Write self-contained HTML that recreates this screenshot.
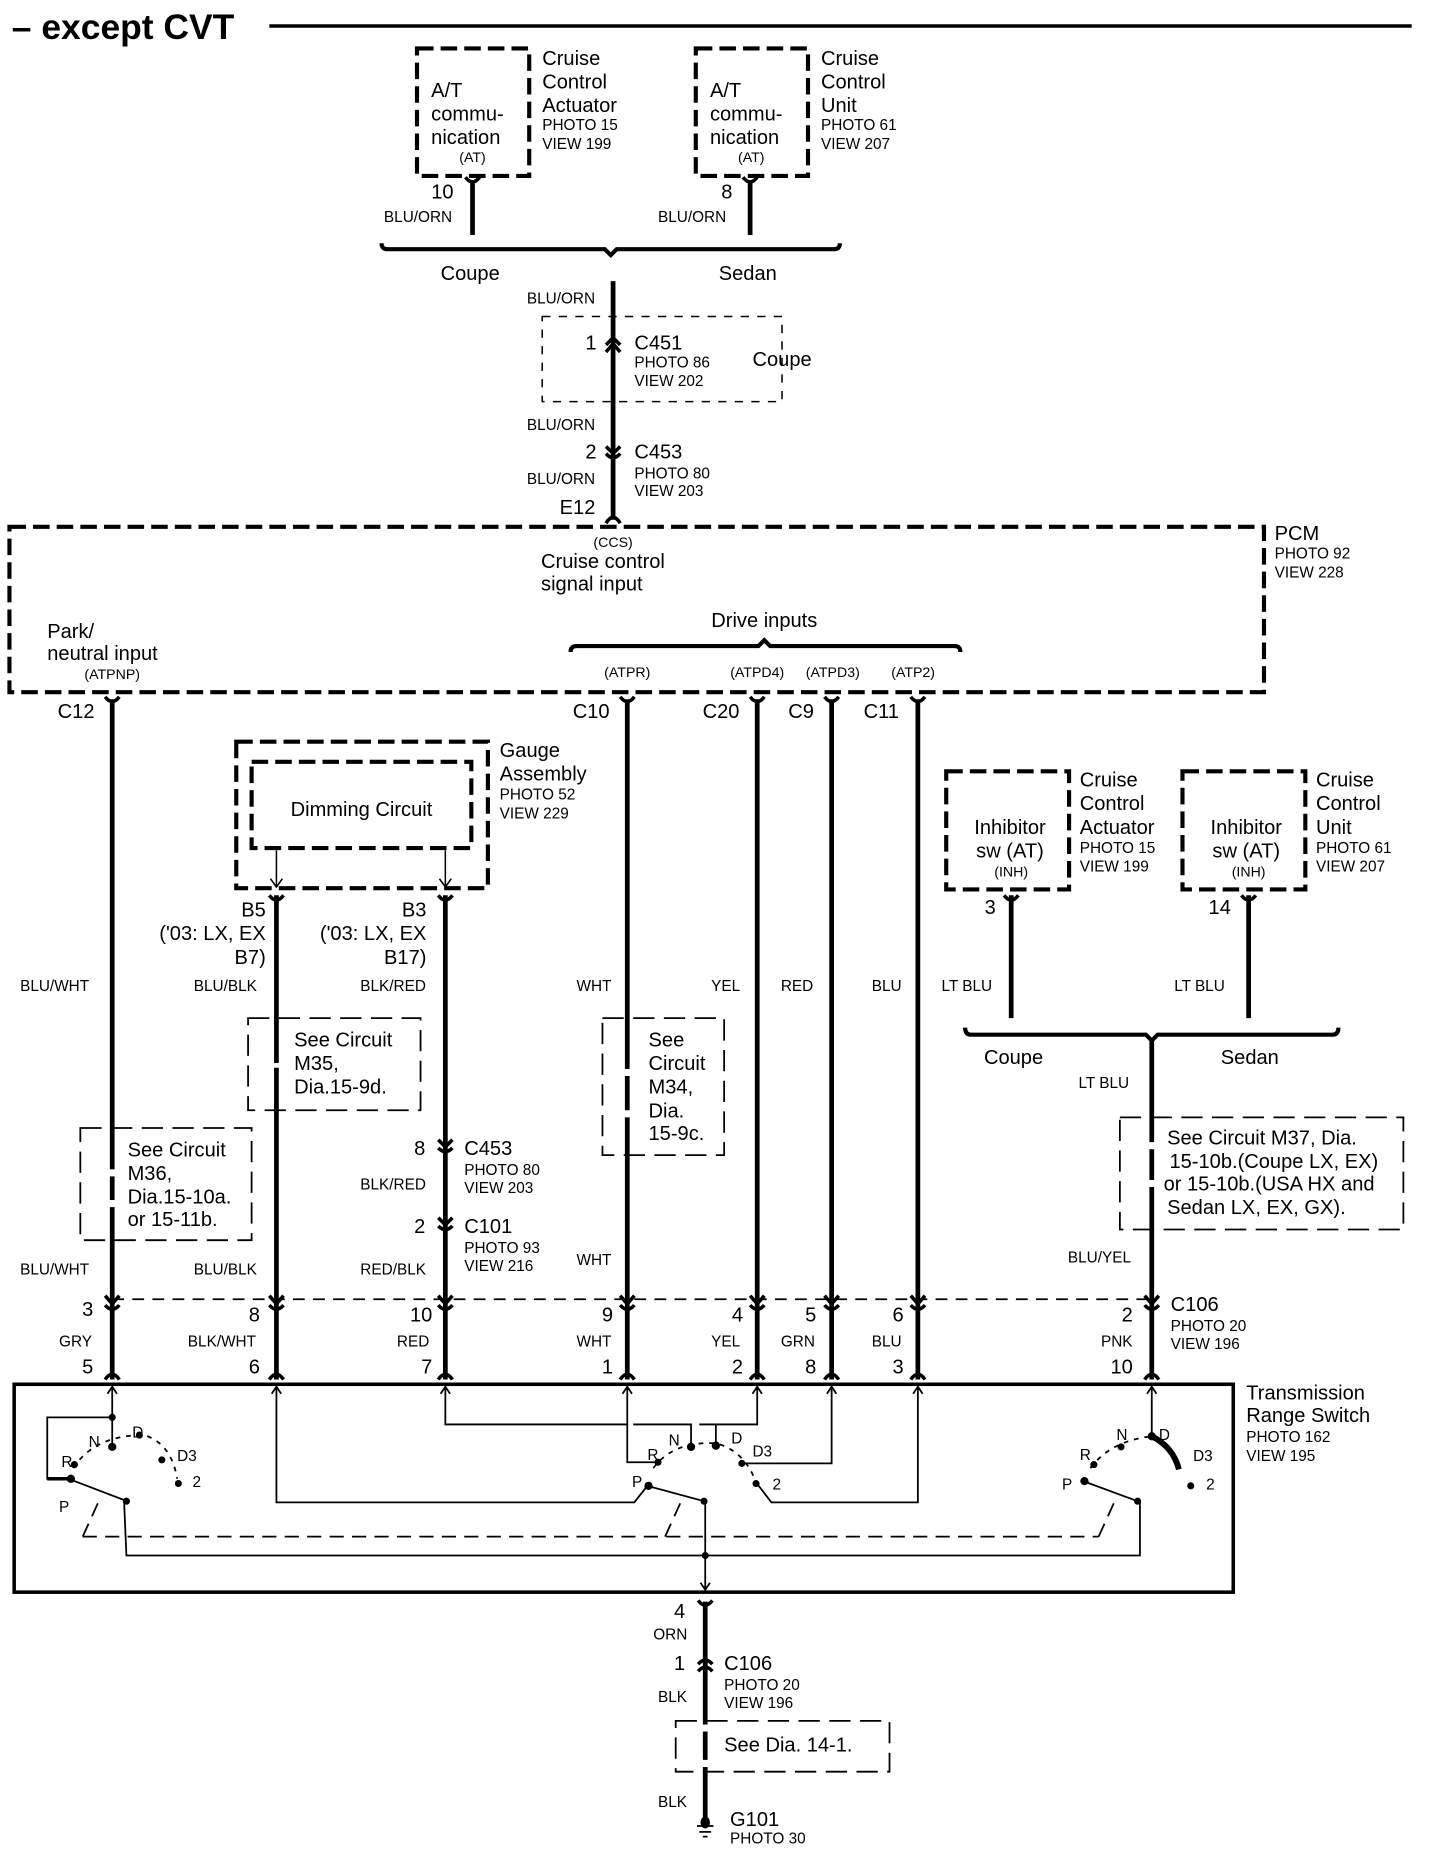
<!DOCTYPE html>
<html><head><meta charset="utf-8"><style>
html,body{margin:0;padding:0;background:#fff;}
svg{display:block;}
text{font-family:"Liberation Sans",sans-serif;fill:#000;}
.L{font-size:17px;}
.S{font-size:13px;}
.T{font-size:12px;}
</style></head><body>
<svg width="1440" height="1852" viewBox="0 0 1219 1568" preserveAspectRatio="none" xmlns="http://www.w3.org/2000/svg">
<rect x="0" y="0" width="1219" height="1568" fill="#fff"/>
<g fill="none" stroke="#000">
<line x1="228" y1="22" x2="1195" y2="22" stroke-width="3"/>
<rect x="353" y="41" width="95" height="108" stroke-width="3.5" stroke-dasharray="14,6"/>
<rect x="589" y="41" width="95" height="108" stroke-width="3.5" stroke-dasharray="14,6"/>
<line x1="400" y1="155" x2="400" y2="199" stroke-width="4"/>
<line x1="635" y1="155" x2="635" y2="199" stroke-width="4"/>
<path d="M394,150 Q400,158 406,150 M629,150 Q635,158 641,150" stroke-width="3"/>
<path d="M323,206 Q323,211 328,211 L512,211 L517,216 L522,211 L706,211 Q711,211 711,206" stroke-width="3.5"/>
<line x1="519" y1="238" x2="519" y2="440" stroke-width="4"/>
<rect x="459" y="268" width="203" height="72" stroke-width="1.3" stroke-dasharray="7,7"/>
<path d="M513,292 L519,286 L525,292 M513,298 L519,291 L525,298" stroke-width="3"/>
<path d="M513,378 L519,384 L525,378 M513,384 Q519,391 525,384" stroke-width="3"/>
<path d="M513,443 Q519,433 525,443" stroke-width="3"/>
<rect x="8" y="446" width="1062" height="140" stroke-width="3.5" stroke-dasharray="14,6"/>
<path d="M483,552 Q483,547 488,547 L642,547 L647,542 L652,547 L808,547 Q813,547 813,552" stroke-width="3.5"/>
<g stroke-width="4">
<line x1="95" y1="592" x2="95" y2="1168"/>
<line x1="531" y1="592" x2="531" y2="1168"/>
<line x1="641" y1="592" x2="641" y2="1168"/>
<line x1="704" y1="592" x2="704" y2="1168"/>
<line x1="777" y1="592" x2="777" y2="1168"/>
<line x1="234" y1="758" x2="234" y2="1168"/>
<line x1="377" y1="758" x2="377" y2="1168"/>
<line x1="856" y1="758" x2="856" y2="862"/>
<line x1="1057" y1="758" x2="1057" y2="862"/>
<line x1="975" y1="881" x2="975" y2="1168"/>
<line x1="597" y1="1356" x2="597" y2="1460"/>
<line x1="597" y1="1466" x2="597" y2="1490"/>
<line x1="597" y1="1496" x2="597" y2="1545"/>
</g>
<g stroke="#fff" stroke-width="6">
<line x1="234" y1="900" x2="234" y2="904"/><line x1="95" y1="990" x2="95" y2="996"/><line x1="95" y1="1016" x2="95" y2="1022"/>
<line x1="531" y1="905" x2="531" y2="911"/><line x1="531" y1="940" x2="531" y2="946"/>
<line x1="975" y1="967" x2="975" y2="973"/><line x1="975" y1="999" x2="975" y2="1005"/>
</g>
<g stroke-width="3">
<path d="M89,590 Q95,598 101,590 M525,590 Q531,598 537,590 M635,590 Q641,598 647,590 M698,590 Q704,598 710,590 M771,590 Q777,598 783,590"/>
<path d="M228,758 Q234,766 240,758 M371,758 Q377,766 383,758 M850,758 Q856,766 862,758 M1051,758 Q1057,766 1063,758 M591,1355 Q597,1363 603,1355"/>
</g>
<rect x="200" y="628" width="213" height="124" stroke-width="3.5" stroke-dasharray="14,6"/>
<rect x="213" y="645" width="186" height="73" stroke-width="3.5" stroke-dasharray="14,6"/>
<path d="M234,720 L234,751 M229,744 L234,751 L239,744 M377,720 L377,751 M372,744 L377,751 L382,744" stroke-width="1.3"/>
<rect x="801" y="653" width="104" height="100" stroke-width="3.5" stroke-dasharray="14,6"/>
<rect x="1001" y="653" width="104" height="100" stroke-width="3.5" stroke-dasharray="14,6"/>
<path d="M817,870 Q817,876 822,876 L970,876 L975,881 L980,876 L1128,876 Q1133,876 1133,870" stroke-width="3.5"/>
<g stroke-width="1.5" stroke-dasharray="18,8">
<rect x="210" y="862" width="146" height="78"/>
<rect x="68" y="955" width="145" height="95"/>
<rect x="510" y="862" width="103" height="116"/>
<rect x="948" y="946" width="240" height="95"/>
<rect x="572" y="1457" width="181" height="43"/>
</g>
<path d="M371,965 L377,971 L383,965 M371,972 Q377,978 383,972 M371,1031 L377,1037 L383,1031 M371,1038 Q377,1044 383,1038" stroke-width="3"/>
<line x1="95" y1="1100" x2="975" y2="1100" stroke-width="1.5" stroke-dasharray="10,7"/>
<g stroke-width="3">
<path d="M89,1097 L95,1104 L101,1097 M89,1105 Q95,1112 101,1105"/>
<path d="M228,1097 L234,1104 L240,1097 M228,1105 Q234,1112 240,1105"/>
<path d="M371,1097 L377,1104 L383,1097 M371,1105 Q377,1112 383,1105"/>
<path d="M525,1097 L531,1104 L537,1097 M525,1105 Q531,1112 537,1105"/>
<path d="M635,1097 L641,1104 L647,1097 M635,1105 Q641,1112 647,1105"/>
<path d="M698,1097 L704,1104 L710,1097 M698,1105 Q704,1112 710,1105"/>
<path d="M771,1097 L777,1104 L783,1097 M771,1105 Q777,1112 783,1105"/>
<path d="M969,1097 L975,1104 L981,1097 M969,1105 Q975,1112 981,1105"/>
<path d="M89,1168 Q95,1159 101,1168 M228,1168 Q234,1159 240,1168 M371,1168 Q377,1159 383,1168 M525,1168 Q531,1159 537,1168 M635,1168 Q641,1159 647,1168 M698,1168 Q704,1159 710,1168 M771,1168 Q777,1159 783,1168 M969,1168 Q975,1159 981,1168"/>
<path d="M591,1409 Q597,1402 603,1409 M591,1415 Q597,1408 603,1415"/>
</g>
<rect x="12" y="1172" width="1032" height="176" stroke-width="3"/>
<g stroke-width="1.5">
<path d="M95,1174 L95,1225 M91,1180 L95,1174 L99,1180"/>
<path d="M234,1174 L234,1272 L537,1272 L548,1258 M230,1180 L234,1174 L238,1180"/>
<path d="M377,1174 L377,1206 L531,1206 M373,1180 L377,1174 L381,1180"/>
<path d="M531,1174 L531,1238 L556,1238 M527,1180 L531,1174 L535,1180"/>
<path d="M536,1206 L585,1206 L585,1225 M592,1206 L641,1206 L641,1174 M606,1206 L606,1224 M637,1180 L641,1174 L645,1180"/>
<path d="M704,1174 L704,1239 L628,1239 M700,1180 L704,1174 L708,1180"/>
<path d="M777,1174 L777,1272 L653,1272 L640,1255 M773,1180 L777,1174 L781,1180"/>
<path d="M975,1174 L975,1215 M971,1180 L975,1174 L979,1180"/>
<path d="M95,1200 L40,1200 L40,1252 L58,1252"/>
<path d="M58,1252 L105,1270 L107,1317 L965,1317 L965,1271"/>
<path d="M597,1271 L597,1346 M593,1340 L597,1346 L601,1340"/>
<path d="M548,1258 L596,1271 M917,1254 L963,1271"/>
<path d="M62,1243 Q80,1215 122,1215 Q145,1222 150,1252 M553,1243 Q570,1220 606,1222 Q630,1228 640,1255 M923,1243 Q940,1220 975,1216" stroke-dasharray="4,5"/>
<path d="M70,1301 L85,1268 M70,1301 L930,1301 M563,1301 L578,1268 M930,1301 L945,1268" stroke-dasharray="12,7"/>
</g>
<path d="M975,1216 Q993,1225 998,1244" stroke-width="5"/>
<path d="M40,1252 L58,1252" stroke-width="3"/>
<path d="M590,1546 L604,1546 M592,1551 L602,1551 M595,1555 L599,1555" stroke-width="1.5"/>
</g>
<g fill="#000">
<circle cx="95" cy="1200" r="3"/><circle cx="95" cy="1225" r="3.5"/><circle cx="63" cy="1240" r="3"/><circle cx="118" cy="1215" r="3"/><circle cx="137" cy="1236" r="3"/><circle cx="151" cy="1256" r="3"/><circle cx="60" cy="1252" r="3.5"/><circle cx="107" cy="1271" r="3"/>
<circle cx="585" cy="1225" r="3.5"/><circle cx="606" cy="1224" r="3.5"/><circle cx="557" cy="1238" r="3"/><circle cx="628" cy="1239" r="3"/><circle cx="640" cy="1256" r="3"/><circle cx="549" cy="1258" r="3.5"/><circle cx="596" cy="1271" r="3"/><circle cx="597" cy="1317" r="3"/>
<circle cx="949" cy="1225" r="3"/><circle cx="975" cy="1216" r="3.5"/><circle cx="926" cy="1240" r="3"/><circle cx="1008" cy="1258" r="3"/><circle cx="918" cy="1254" r="3.5"/><circle cx="963" cy="1271" r="3"/>
<ellipse cx="597" cy="1543" rx="4" ry="5"/>
</g>
<text x="10" y="33" style="font-size:30px;font-weight:bold">– except CVT</text>
<text class="L" x="365" y="82">A/T</text><text class="L" x="365" y="102">commu-</text><text class="L" x="365" y="122">nication</text><text class="T" x="400" y="137" text-anchor="middle">(AT)</text>
<text class="L" x="459" y="55">Cruise</text><text class="L" x="459" y="75">Control</text><text class="L" x="459" y="95">Actuator</text><text class="S" x="459" y="110">PHOTO 15</text><text class="S" x="459" y="126">VIEW 199</text>
<text class="L" x="601" y="82">A/T</text><text class="L" x="601" y="102">commu-</text><text class="L" x="601" y="122">nication</text><text class="T" x="636" y="137" text-anchor="middle">(AT)</text>
<text class="L" x="695" y="55">Cruise</text><text class="L" x="695" y="75">Control</text><text class="L" x="695" y="95">Unit</text><text class="S" x="695" y="110">PHOTO 61</text><text class="S" x="695" y="126">VIEW 207</text>
<text class="L" x="384" y="168" text-anchor="end">10</text><text class="S" x="325" y="188">BLU/ORN</text>
<text class="L" x="620" y="168" text-anchor="end">8</text><text class="S" x="557" y="188">BLU/ORN</text>
<text class="L" x="398" y="237" text-anchor="middle">Coupe</text><text class="L" x="633" y="237" text-anchor="middle">Sedan</text>
<text class="S" x="446" y="257">BLU/ORN</text>
<text class="L" x="505" y="296" text-anchor="end">1</text><text class="L" x="537" y="296">C451</text><text class="S" x="537" y="311">PHOTO 86</text><text class="S" x="537" y="327">VIEW 202</text><text class="L" x="637" y="310">Coupe</text>
<text class="S" x="446" y="364">BLU/ORN</text>
<text class="L" x="505" y="388" text-anchor="end">2</text><text class="L" x="537" y="388">C453</text><text class="S" x="537" y="405">PHOTO 80</text><text class="S" x="537" y="420">VIEW 203</text>
<text class="S" x="446" y="410">BLU/ORN</text><text class="L" x="504" y="435" text-anchor="end">E12</text>
<text class="T" x="519" y="463" text-anchor="middle">(CCS)</text><text class="L" x="458" y="481">Cruise control</text><text class="L" x="458" y="500">signal input</text>
<text class="L" x="1079" y="457">PCM</text><text class="S" x="1079" y="473">PHOTO 92</text><text class="S" x="1079" y="489">VIEW 228</text>
<text class="L" x="40" y="540">Park/</text><text class="L" x="40" y="559">neutral input</text><text class="T" x="95" y="575" text-anchor="middle">(ATPNP)</text>
<text class="L" x="647" y="531" text-anchor="middle">Drive inputs</text>
<text class="T" x="531" y="573" text-anchor="middle">(ATPR)</text><text class="T" x="641" y="573" text-anchor="middle">(ATPD4)</text><text class="T" x="705" y="573" text-anchor="middle">(ATPD3)</text><text class="T" x="773" y="573" text-anchor="middle">(ATP2)</text>
<text class="L" x="80" y="608" text-anchor="end">C12</text><text class="L" x="516" y="608" text-anchor="end">C10</text><text class="L" x="626" y="608" text-anchor="end">C20</text><text class="L" x="689" y="608" text-anchor="end">C9</text><text class="L" x="761" y="608" text-anchor="end">C11</text>
<text class="L" x="306" y="691" text-anchor="middle">Dimming Circuit</text>
<text class="L" x="423" y="641">Gauge</text><text class="L" x="423" y="661">Assembly</text><text class="S" x="423" y="677">PHOTO 52</text><text class="S" x="423" y="693">VIEW 229</text>
<text class="L" x="225" y="776" text-anchor="end">B5</text><text class="L" x="225" y="796" text-anchor="end">('03: LX, EX</text><text class="L" x="225" y="816" text-anchor="end">B7)</text>
<text class="L" x="361" y="776" text-anchor="end">B3</text><text class="L" x="361" y="796" text-anchor="end">('03: LX, EX</text><text class="L" x="361" y="816" text-anchor="end">B17)</text>
<text class="L" x="855" y="706" text-anchor="middle">Inhibitor</text><text class="L" x="855" y="726" text-anchor="middle">sw (AT)</text><text class="T" x="856" y="742" text-anchor="middle">(INH)</text>
<text class="L" x="914" y="666">Cruise</text><text class="L" x="914" y="686">Control</text><text class="L" x="914" y="706">Actuator</text><text class="S" x="914" y="722">PHOTO 15</text><text class="S" x="914" y="738">VIEW 199</text>
<text class="L" x="1055" y="706" text-anchor="middle">Inhibitor</text><text class="L" x="1055" y="726" text-anchor="middle">sw (AT)</text><text class="T" x="1057" y="742" text-anchor="middle">(INH)</text>
<text class="L" x="1114" y="666">Cruise</text><text class="L" x="1114" y="686">Control</text><text class="L" x="1114" y="706">Unit</text><text class="S" x="1114" y="722">PHOTO 61</text><text class="S" x="1114" y="738">VIEW 207</text>
<text class="L" x="843" y="774" text-anchor="end">3</text><text class="L" x="1042" y="774" text-anchor="end">14</text>
<text class="S" x="17" y="839">BLU/WHT</text><text class="S" x="164" y="839">BLU/BLK</text><text class="S" x="305" y="839">BLK/RED</text><text class="S" x="488" y="839">WHT</text><text class="S" x="602" y="839">YEL</text><text class="S" x="661" y="839">RED</text><text class="S" x="738" y="839">BLU</text><text class="S" x="797" y="839">LT BLU</text><text class="S" x="994" y="839">LT BLU</text>
<text class="L" x="858" y="901" text-anchor="middle">Coupe</text><text class="L" x="1058" y="901" text-anchor="middle">Sedan</text><text class="S" x="913" y="921">LT BLU</text>
<text class="L" x="249" y="886">See Circuit</text><text class="L" x="249" y="906">M35,</text><text class="L" x="249" y="926">Dia.15-9d.</text>
<text class="L" x="549" y="886">See</text><text class="L" x="549" y="906">Circuit</text><text class="L" x="549" y="926">M34,</text><text class="L" x="549" y="946">Dia.</text><text class="L" x="549" y="965">15-9c.</text>
<text class="L" x="108" y="979">See Circuit</text><text class="L" x="108" y="999">M36,</text><text class="L" x="108" y="1019">Dia.15-10a.</text><text class="L" x="108" y="1038">or 15-11b.</text>
<text class="L" x="988" y="969">See Circuit M37, Dia.</text><text class="L" x="990" y="989">15-10b.(Coupe LX, EX)</text><text class="L" x="985" y="1008">or 15-10b.(USA HX and</text><text class="L" x="988" y="1028">Sedan LX, EX, GX).</text>
<text class="L" x="360" y="978" text-anchor="end">8</text><text class="L" x="393" y="978">C453</text><text class="S" x="393" y="995">PHOTO 80</text><text class="S" x="393" y="1010">VIEW 203</text><text class="S" x="305" y="1007">BLK/RED</text>
<text class="L" x="360" y="1044" text-anchor="end">2</text><text class="L" x="393" y="1044">C101</text><text class="S" x="393" y="1061">PHOTO 93</text><text class="S" x="393" y="1076">VIEW 216</text>
<text class="S" x="17" y="1079">BLU/WHT</text><text class="S" x="164" y="1079">BLU/BLK</text><text class="S" x="305" y="1079">RED/BLK</text><text class="S" x="488" y="1071">WHT</text><text class="S" x="904" y="1069">BLU/YEL</text>
<text class="L" x="79" y="1114" text-anchor="end">3</text><text class="L" x="220" y="1119" text-anchor="end">8</text><text class="L" x="366" y="1119" text-anchor="end">10</text><text class="L" x="519" y="1119" text-anchor="end">9</text><text class="L" x="629" y="1119" text-anchor="end">4</text><text class="L" x="691" y="1119" text-anchor="end">5</text><text class="L" x="765" y="1119" text-anchor="end">6</text><text class="L" x="959" y="1119" text-anchor="end">2</text>
<text class="L" x="991" y="1110">C106</text><text class="S" x="991" y="1127">PHOTO 20</text><text class="S" x="991" y="1142">VIEW 196</text>
<text class="S" x="50" y="1140">GRY</text><text class="S" x="159" y="1140">BLK/WHT</text><text class="S" x="336" y="1140">RED</text><text class="S" x="488" y="1140">WHT</text><text class="S" x="602" y="1140">YEL</text><text class="S" x="661" y="1140">GRN</text><text class="S" x="738" y="1140">BLU</text><text class="S" x="932" y="1140">PNK</text>
<text class="L" x="79" y="1163" text-anchor="end">5</text><text class="L" x="220" y="1163" text-anchor="end">6</text><text class="L" x="366" y="1163" text-anchor="end">7</text><text class="L" x="519" y="1163" text-anchor="end">1</text><text class="L" x="629" y="1163" text-anchor="end">2</text><text class="L" x="691" y="1163" text-anchor="end">8</text><text class="L" x="765" y="1163" text-anchor="end">3</text><text class="L" x="959" y="1163" text-anchor="end">10</text>
<text class="L" x="1055" y="1185">Transmission</text><text class="L" x="1055" y="1204">Range Switch</text><text class="S" x="1055" y="1221">PHOTO 162</text><text class="S" x="1055" y="1237">VIEW 195</text>
<text class="S" x="75" y="1225">N</text><text class="S" x="112" y="1217">D</text><text class="S" x="150" y="1237">D3</text><text class="S" x="52" y="1242">R</text><text class="S" x="163" y="1259">2</text><text class="S" x="50" y="1280">P</text>
<text class="S" x="566" y="1224">N</text><text class="S" x="619" y="1222">D</text><text class="S" x="637" y="1233">D3</text><text class="S" x="548" y="1236">R</text><text class="S" x="654" y="1261">2</text><text class="S" x="535" y="1259">P</text>
<text class="S" x="945" y="1219">N</text><text class="S" x="981" y="1219">D</text><text class="S" x="1010" y="1237">D3</text><text class="S" x="914" y="1236">R</text><text class="S" x="1021" y="1261">2</text><text class="S" x="899" y="1261">P</text>
<text class="L" x="580" y="1370" text-anchor="end">4</text><text class="S" x="553" y="1388">ORN</text>
<text class="L" x="580" y="1414" text-anchor="end">1</text><text class="L" x="613" y="1414">C106</text><text class="S" x="613" y="1431">PHOTO 20</text><text class="S" x="613" y="1446">VIEW 196</text><text class="S" x="557" y="1441">BLK</text>
<text class="L" x="613" y="1483">See Dia. 14-1.</text>
<text class="S" x="557" y="1530">BLK</text><text class="L" x="618" y="1546">G101</text><text class="S" x="618" y="1561">PHOTO 30</text>
</svg>
</body></html>
